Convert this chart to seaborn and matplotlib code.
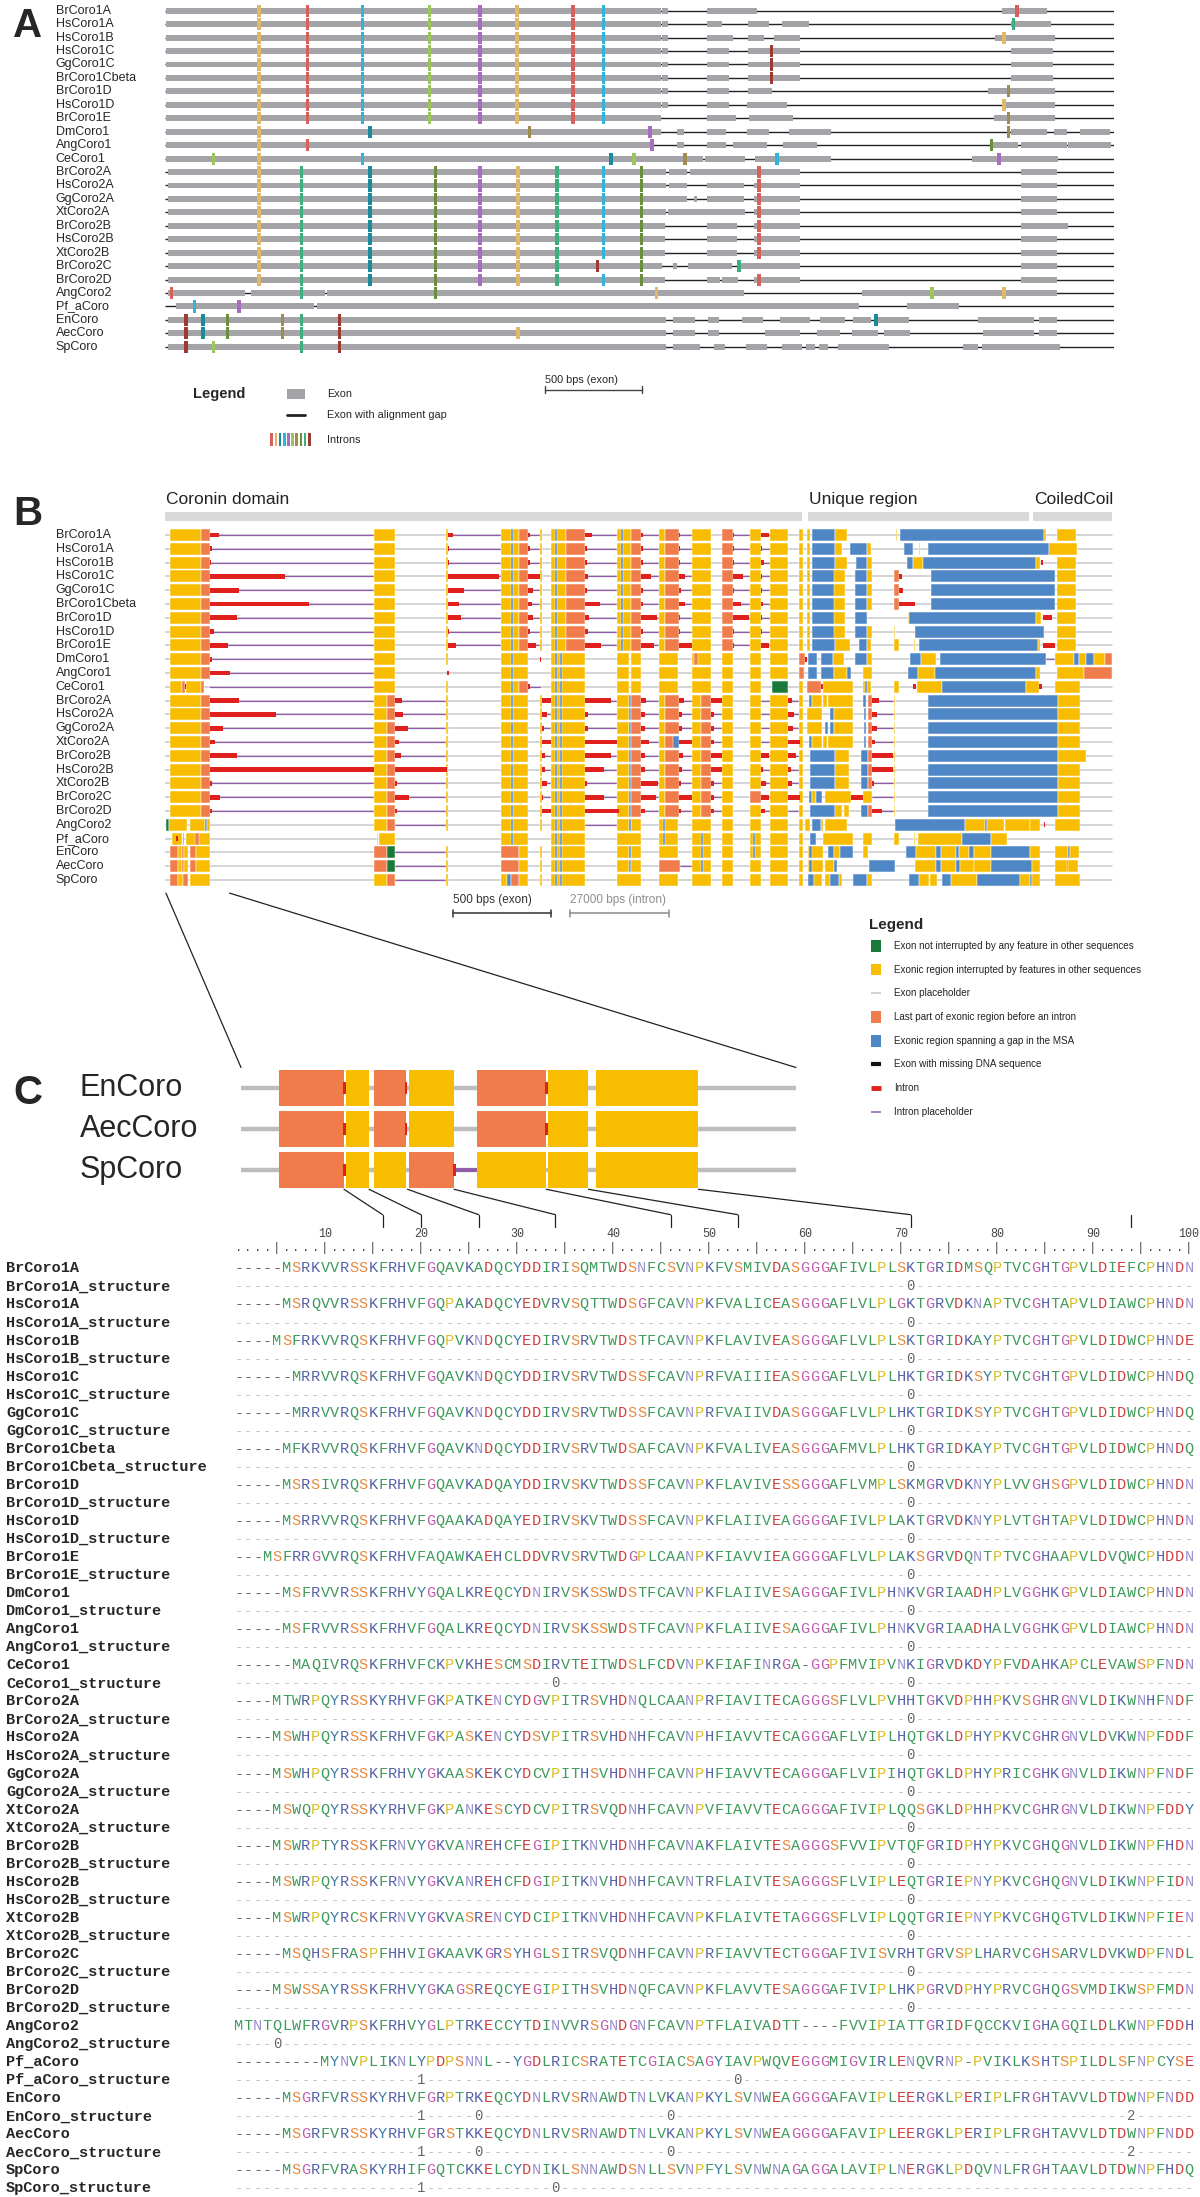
import matplotlib
matplotlib.use("Agg")
import matplotlib.pyplot as plt
from matplotlib.patches import Rectangle, ConnectionPatch
import seaborn as sns

# ---------------------------
# Data: gene names (same order in panels A and B)
# ---------------------------
gene_names = ['BrCoro1A', 'HsCoro1A', 'HsCoro1B', 'HsCoro1C', 'GgCoro1C', 'BrCoro1Cbeta',
              'BrCoro1D', 'HsCoro1D', 'BrCoro1E', 'DmCoro1', 'AngCoro1', 'CeCoro1',
              'BrCoro2A', 'HsCoro2A', 'GgCoro2A', 'XtCoro2A', 'BrCoro2B', 'HsCoro2B',
              'XtCoro2B', 'BrCoro2C', 'BrCoro2D', 'AngCoro2', 'Pf_aCoro', 'EnCoro',
              'AecCoro', 'SpCoro']

# ---------------------------
# Panel A: exon segments and intron positions (alignment columns 0-1000)
# ---------------------------
coro1_head = [(1, 523), (524, 530)]
a_exons = [
    coro1_head + [(571, 624), (882, 929)],
    coro1_head + [(571, 587), (614, 636), (650, 679), (891, 934)],
    coro1_head + [(571, 598), (614, 631), (642, 669), (875, 938)],
    coro1_head + [(571, 594), (614, 669), (891, 936)],
    coro1_head + [(571, 594), (614, 669), (891, 936)],
    coro1_head + [(571, 594), (614, 669), (891, 936)],
    coro1_head + [(571, 594), (614, 640), (867, 938)],
    coro1_head + [(571, 594), (613, 655), (883, 938)],
    [(1, 523), (571, 602), (615, 662), (874, 938)],
    [(1, 523), (540, 547), (571, 591), (613, 636), (658, 702), (891, 929), (937, 951), (964, 996)],
    [(1, 513), (540, 547), (571, 591), (599, 634), (651, 687), (873, 899), (902, 951), (952, 997)],
    [(1, 567), (569, 611), (622, 702), (850, 941)],
    [(3, 528), (531, 550), (553, 669), (902, 940)],
    [(3, 528), (531, 550), (571, 610), (621, 669), (902, 940)],
    [(3, 550), (557, 561), (571, 610), (621, 669), (902, 940)],
    [(3, 528), (530, 611), (621, 669), (902, 940)],
    [(3, 527), (571, 603), (621, 669), (902, 952)],
    [(3, 527), (571, 603), (621, 669), (902, 940)],
    [(3, 527), (571, 603), (621, 669), (902, 940)],
    [(3, 524), (535, 540), (551, 597), (606, 669), (902, 940)],
    [(3, 527), (571, 585), (587, 604), (621, 669), (902, 940)],
    [(3, 84), (91, 169), (171, 610), (734, 940)],
    [(12, 157), (160, 731), (782, 837)],
    [(3, 528), (535, 559), (572, 584), (608, 630), (648, 680), (690, 717), (725, 744), (751, 784), (857, 916), (921, 940)],
    [(3, 528), (535, 559), (572, 584), (632, 669), (687, 711), (724, 751), (758, 785), (862, 916), (921, 940)],
    [(3, 528), (535, 564), (579, 590), (612, 634), (650, 671), (675, 685), (689, 699), (709, 763), (841, 857), (861, 943)],
]

coro1_marks = [(99, 'tan'), (150, 'red'), (208, 'cyan'), (279, 'lgreen'), (332, 'purple'),
               (371, 'tan'), (430, 'red'), (462, 'cyan')]
coro2_marks = [(99, 'tan'), (144, 'green'), (216, 'teal'), (285, 'ogreen'), (332, 'purple'),
               (372, 'tan'), (413, 'green'), (462, 'cyan'), (502, 'ogreen'), (626, 'red')]
a_introns = [
    coro1_marks + [(898, 'red')],
    coro1_marks + [(894, 'green')],
    coro1_marks + [(884, 'tan')],
    coro1_marks + [(639, 'dred')],
    coro1_marks + [(639, 'dred')],
    coro1_marks + [(639, 'dred')],
    coro1_marks + [(889, 'olive')],
    coro1_marks + [(884, 'tan')],
    coro1_marks + [(889, 'olive')],
    [(99, 'tan'), (216, 'teal'), (384, 'olive'), (511, 'purple'), (889, 'olive')],
    [(99, 'tan'), (150, 'red'), (513, 'purple'), (871, 'ogreen')],
    [(51, 'lgreen'), (99, 'tan'), (208, 'cyan'), (470, 'teal'), (494, 'lgreen'), (548, 'olive'),
     (645, 'cyan'), (879, 'purple')],
    coro2_marks, coro2_marks, coro2_marks, coro2_marks, coro2_marks, coro2_marks, coro2_marks,
    [(99, 'tan'), (144, 'green'), (216, 'teal'), (285, 'ogreen'), (332, 'purple'), (372, 'tan'),
     (413, 'green'), (456, 'dred'), (502, 'ogreen'), (605, 'green')],
    coro2_marks,
    [(7, 'red'), (144, 'green'), (285, 'ogreen'), (518, 'tan'), (808, 'lgreen'), (884, 'tan')],
    [(31, 'cyan'), (78, 'purple')],
    [(22, 'dred'), (40, 'teal'), (66, 'ogreen'), (124, 'olive'), (144, 'green'), (184, 'dred'), (749, 'teal')],
    [(22, 'dred'), (40, 'teal'), (66, 'ogreen'), (124, 'olive'), (144, 'green'), (184, 'dred'), (372, 'tan')],
    [(22, 'dred'), (51, 'lgreen'), (144, 'green'), (184, 'dred')],
]

intron_keys = ['red', 'tan', 'teal', 'cyan', 'purple', 'lgreen', 'olive', 'ogreen', 'green', 'dred']
intron_hex = ['#d9605a', '#e0b868', '#1a8a9c', '#31b4dc', '#a86cc0', '#9cc65c', '#a08c50',
              '#6a8f3c', '#3cb07c', '#9b3b32']

# ---------------------------
# Panel B: exonic blocks (start, end, kind) and intron lengths
# ---------------------------
coro1_b_core = [(5, 38, 'Y'), (38, 47, 'O'), (220, 242, 'Y'), (296, 298, 'Y'), (354, 373, 'Y'),
                (365, 367, 'B'), (373, 383, 'O'), (395, 397, 'Y'), (407, 423, 'Y'), (411, 413, 'B'),
                (423, 443, 'O'), (476, 491, 'Y'), (481, 483, 'B'), (491, 502, 'O'), (521, 527, 'Y'),
                (527, 542, 'O'), (555, 575, 'Y'), (587, 598, 'O'), (616, 628, 'Y'), (638, 657, 'Y'),
                (668, 672, 'Y'), (676, 680, 'Y'), (682, 706, 'B'), (940, 960, 'Y')]
coro1_b_intron_at = [47, 298, 383, 443, 502, 542, 598, 628]
coro1_b_purple = [(47, 220), (298, 354), (383, 395), (443, 476), (502, 521), (542, 555), (598, 616), (628, 638)]
coro1_red_len = [
    [10, 6, 2, 7, 0, 0, 0, 8],
    [3, 1, 0, 0, 0, 0, 0, 0],
    [1, 1, 1, 0, 2, 0, 1, 3],
    [79, 54, 12, 3, 10, 6, 11, 0],
    [31, 17, 5, 1, 2, 2, 2, 0],
    [105, 12, 4, 15, 2, 6, 9, 2],
    [29, 14, 5, 4, 16, 0, 17, 0],
    [5, 1, 0, 3, 2, 0, 2, 0],
    [19, 9, 8, 16, 13, 13, 2, 8],
]
coro1_tails = [
    [(706, 719, 'Y'), (770, 771, 'Y'), (774, 926, 'B'), (926, 928, 'Y')],
    [(706, 713, 'Y'), (722, 740, 'B'), (740, 744, 'Y'), (779, 788, 'B'), (795, 796, 'Y'), (804, 931, 'B'), (931, 961, 'Y')],
    [(706, 719, 'Y'), (728, 740, 'B'), (740, 745, 'Y'), (782, 788, 'B'), (788, 799, 'Y'), (799, 918, 'B'), (918, 922, 'Y'), (923, 925, 'R')],
    [(705, 717, 'Y'), (727, 740, 'B'), (740, 745, 'Y'), (768, 773, 'O'), (773, 777, 'R'), (807, 938, 'B')],
    [(705, 717, 'Y'), (727, 740, 'B'), (740, 745, 'Y'), (768, 773, 'O'), (773, 778, 'R'), (807, 938, 'B')],
    [(705, 717, 'Y'), (727, 740, 'B'), (740, 745, 'Y'), (768, 773, 'O'), (773, 790, 'R'), (807, 938, 'B')],
    [(705, 717, 'Y'), (727, 740, 'B'), (783, 784, 'Y'), (784, 918, 'B'), (918, 923, 'Y'), (925, 935, 'R')],
    [(705, 717, 'Y'), (727, 740, 'B'), (740, 745, 'Y'), (768, 769, 'Y'), (790, 926, 'B')],
    [(706, 722, 'Y'), (731, 740, 'B'), (740, 744, 'Y'), (768, 773, 'Y'), (789, 790, 'Y'), (795, 920, 'B'), (920, 922, 'Y'), (925, 938, 'R')],
]

coro2_b_core = [(5, 38, 'Y'), (38, 47, 'O'), (220, 234, 'Y'), (234, 242, 'O'), (296, 298, 'Y'),
                (354, 383, 'Y'), (365, 367, 'B'), (395, 397, 'Y'), (407, 443, 'Y'), (411, 413, 'B'),
                (416, 418, 'B'), (476, 489, 'Y'), (489, 491, 'B'), (491, 502, 'O'), (521, 527, 'Y'),
                (527, 542, 'O'), (555, 565, 'Y'), (565, 575, 'O'), (587, 598, 'Y'), (616, 628, 'Y'),
                (638, 657, 'Y'), (668, 672, 'Y')]
coro2_b_intron_at = [47, 242, 397, 443, 502, 542, 575, 628, 657, 745]
coro2_b_purple = [(47, 220), (242, 296), (397, 407), (443, 476), (502, 521), (542, 555), (575, 587),
                  (628, 638), (657, 668), (745, 768)]
coro2_red_len = [
    [31, 8, 10, 27, 5, 5, 12, 0, 4, 7],
    [70, 9, 6, 3, 4, 3, 3, 0, 6, 5],
    [14, 14, 2, 3, 4, 3, 3, 0, 5, 5],
    [6, 5, 10, 33, 8, 13, 3, 0, 12, 3],
    [29, 7, 3, 27, 4, 4, 12, 8, 8, 22],
    [173, 55, 3, 20, 4, 3, 12, 2, 3, 22],
    [2, 2, 6, 2, 18, 2, 4, 5, 4, 2],
    [11, 15, 1, 20, 15, 13, 4, 8, 12, 0],
    [3, 2, 10, 35, 4, 2, 3, 4, 0, 11],
]
coro2_tails = [
    [(679, 682, 'B'), (682, 692, 'Y'), (693, 698, 'Y'), (699, 725, 'Y'), (736, 739, 'B'), (741, 745, 'O'), (768, 769, 'Y'), (804, 941, 'B'), (941, 964, 'Y')],
    [(677, 692, 'Y'), (701, 705, 'B'), (705, 725, 'Y'), (737, 739, 'B'), (741, 745, 'O'), (768, 769, 'Y'), (804, 941, 'B'), (941, 964, 'Y')],
    [(677, 692, 'Y'), (695, 699, 'B'), (701, 705, 'B'), (705, 725, 'Y'), (737, 739, 'B'), (741, 745, 'O'), (768, 769, 'Y'), (804, 941, 'B'), (941, 964, 'Y')],
    [(535, 542, 'B'), (679, 682, 'B'), (682, 692, 'Y'), (693, 698, 'Y'), (699, 725, 'Y'), (737, 739, 'B'), (741, 745, 'O'), (768, 769, 'Y'), (804, 941, 'B'), (941, 964, 'Y')],
    [(680, 706, 'B'), (706, 721, 'Y'), (733, 741, 'B'), (741, 745, 'O'), (768, 769, 'Y'), (804, 941, 'B'), (941, 970, 'Y')],
    [(680, 706, 'B'), (706, 721, 'Y'), (733, 741, 'B'), (741, 745, 'O'), (768, 769, 'Y'), (804, 941, 'B'), (941, 964, 'Y')],
    [(680, 706, 'B'), (706, 721, 'Y'), (733, 741, 'B'), (741, 745, 'O'), (768, 769, 'Y'), (804, 941, 'B'), (941, 964, 'Y')],
    [(616, 628, 'O'), (679, 682, 'B'), (682, 686, 'Y'), (686, 692, 'B'), (695, 723, 'Y'), (723, 735, 'R'), (736, 745, 'Y'), (768, 769, 'Y'), (804, 941, 'B'), (941, 964, 'Y')],
    [(680, 706, 'B'), (706, 713, 'Y'), (715, 721, 'Y'), (733, 741, 'B'), (741, 745, 'O'), (768, 769, 'Y'), (804, 941, 'B'), (941, 964, 'Y')],
]

mid_simple = [(476, 489, 'Y'), (491, 502, 'Y'), (521, 541, 'Y'), (555, 575, 'Y'), (587, 598, 'Y'),
              (616, 628, 'Y'), (638, 657, 'Y'), (668, 672, 'Y')]
left_simple = [(407, 443, 'Y'), (411, 413, 'B'), (416, 418, 'B')]
other_b_blocks = [
    [(5, 38, 'Y'), (38, 47, 'O'), (47, 49, 'R'), (220, 242, 'Y'), (296, 298, 'Y'), (354, 383, 'Y'), (365, 367, 'B'), (395, 396, 'R')]
    + left_simple + mid_simple
    + [(557, 562, 'O'), (668, 674, 'O'), (674, 676, 'R'), (678, 687, 'B'), (691, 704, 'B'), (704, 716, 'Y'), (727, 740, 'B'),
       (740, 745, 'Y'), (785, 797, 'B'), (797, 812, 'Y'), (817, 928, 'B'), (938, 958, 'Y'), (958, 963, 'B'), (963, 971, 'Y'),
       (971, 979, 'B'), (979, 990, 'Y'), (991, 998, 'O')],
    [(5, 38, 'Y'), (38, 47, 'O'), (47, 69, 'R'), (220, 242, 'Y'), (297, 299, 'R'), (354, 383, 'Y'), (365, 367, 'B')]
    + left_simple + mid_simple
    + [(668, 673, 'O'), (678, 687, 'B'), (691, 705, 'B'), (705, 719, 'Y'), (719, 723, 'B'), (736, 745, 'Y'), (783, 793, 'B'),
       (793, 811, 'Y'), (811, 918, 'B'), (918, 922, 'Y'), (940, 968, 'Y'), (968, 998, 'O')],
    [(5, 18, 'Y'), (18, 21, 'O'), (21, 22, 'R'), (22, 38, 'Y'), (38, 41, 'O'), (220, 242, 'Y'), (296, 298, 'Y'), (354, 373, 'Y'),
     (365, 367, 'B'), (373, 383, 'O'), (383, 384, 'R')]
    + left_simple
    + [(476, 489, 'Y'), (491, 502, 'Y'), (521, 541, 'Y'), (555, 575, 'Y'), (587, 598, 'Y'), (616, 628, 'Y'), (640, 656, 'G'),
       (668, 672, 'Y'), (677, 691, 'O'), (691, 693, 'R'), (693, 725, 'Y'), (736, 744, 'Y'), (738, 740, 'B'), (768, 773, 'Y'),
       (788, 791, 'R'), (792, 819, 'Y'), (819, 907, 'B'), (907, 921, 'Y'), (921, 924, 'R'), (938, 964, 'Y')],
    [(1, 4, 'G'), (4, 23, 'Y'), (26, 42, 'Y'), (42, 44, 'B'), (44, 47, 'Y'), (220, 234, 'Y'), (234, 242, 'O'), (296, 298, 'Y'),
     (354, 383, 'Y'), (365, 367, 'B'), (395, 397, 'Y')]
    + left_simple + mid_simple
    + [(489, 491, 'B'), (525, 527, 'B'), (674, 680, 'Y'), (682, 691, 'B'), (691, 693, 'Y'), (695, 719, 'Y'), (769, 843, 'B'),
       (843, 864, 'Y'), (864, 866, 'B'), (866, 884, 'Y'), (885, 912, 'Y'), (912, 922, 'Y'), (926, 927, 'R'), (938, 964, 'Y')],
    [(7, 18, 'Y'), (12, 13, 'R'), (19, 20, 'B'), (22, 47, 'Y'), (32, 36, 'O'), (223, 224, 'Y'), (225, 242, 'Y'),
     (354, 383, 'Y'), (365, 367, 'B')]
    + left_simple
    + [(476, 502, 'Y'), (521, 541, 'Y'), (525, 527, 'B'), (555, 575, 'Y'), (565, 567, 'B'), (587, 598, 'Y'), (616, 628, 'Y'),
       (620, 622, 'B'), (638, 657, 'Y'), (668, 672, 'Y'), (680, 686, 'B'), (693, 725, 'Y'), (736, 745, 'Y'), (768, 773, 'Y'),
       (789, 790, 'Y'), (793, 840, 'Y'), (840, 870, 'B'), (870, 887, 'Y')],
    [(5, 14, 'O'), (14, 18, 'Y'), (18, 20, 'O'), (20, 24, 'Y'), (26, 33, 'O'), (33, 47, 'Y'), (220, 234, 'O'), (234, 242, 'G'),
     (296, 298, 'Y'), (354, 373, 'O'), (373, 383, 'Y'), (395, 397, 'Y')]
    + left_simple + mid_simple
    + [(489, 491, 'B'), (565, 567, 'B'), (620, 622, 'B'), (678, 693, 'Y'), (679, 682, 'B'), (699, 705, 'B'), (705, 711, 'Y'),
       (711, 725, 'B'), (736, 741, 'Y'), (781, 791, 'B'), (791, 812, 'Y'), (812, 818, 'B'), (818, 833, 'Y'), (833, 837, 'B'),
       (837, 847, 'Y'), (847, 852, 'B'), (852, 870, 'Y'), (870, 912, 'B'), (912, 922, 'Y'), (938, 952, 'Y'), (952, 954, 'B'),
       (954, 963, 'Y')],
    [(5, 14, 'O'), (14, 18, 'Y'), (18, 20, 'O'), (20, 24, 'Y'), (26, 33, 'O'), (33, 47, 'Y'), (220, 234, 'O'), (234, 242, 'G'),
     (296, 298, 'Y'), (354, 373, 'O'), (373, 383, 'Y'), (395, 397, 'Y')]
    + left_simple
    + [(476, 489, 'Y'), (489, 491, 'B'), (491, 502, 'Y'), (521, 543, 'O'), (555, 575, 'Y'), (565, 567, 'B'), (587, 598, 'Y'),
       (616, 628, 'Y'), (638, 657, 'Y'), (668, 672, 'Y'), (678, 693, 'Y'), (679, 682, 'B'), (695, 705, 'Y'), (705, 708, 'B'),
       (742, 769, 'B'), (790, 812, 'Y'), (812, 818, 'B'), (818, 833, 'Y'), (833, 838, 'B'), (838, 852, 'Y'), (852, 870, 'Y'),
       (870, 914, 'B'), (914, 922, 'Y'), (938, 962, 'Y'), (950, 952, 'B')],
    [(5, 14, 'O'), (14, 19, 'Y'), (19, 24, 'O'), (26, 47, 'Y'), (220, 234, 'Y'), (234, 242, 'O'), (296, 298, 'Y'),
     (354, 360, 'Y'), (360, 365, 'B'), (365, 373, 'O'), (373, 383, 'Y'), (395, 397, 'Y')]
    + left_simple
    + [(476, 502, 'Y'), (521, 541, 'Y'), (555, 575, 'Y'), (587, 598, 'Y'), (616, 628, 'Y'), (638, 657, 'Y'), (668, 672, 'Y'),
       (678, 684, 'B'), (684, 692, 'Y'), (695, 701, 'Y'), (701, 710, 'B'), (710, 713, 'Y'), (725, 740, 'B'), (740, 745, 'Y'),
       (784, 794, 'B'), (794, 805, 'Y'), (806, 814, 'Y'), (819, 828, 'B'), (828, 856, 'Y'), (856, 901, 'B'), (901, 912, 'Y'),
       (912, 914, 'B'), (914, 922, 'Y'), (938, 964, 'Y')],
]
other_b_purple = [
    [(49, 220), (928, 938)],
    [(69, 220)],
    [(47, 220), (383, 395)],
    [(242, 296), (443, 476)],
    [],
    [(242, 296)],
    [(242, 296), (543, 555)],
    [(242, 296)],
]

b_domains = ['Coronin domain', 'Unique region', 'CoiledCoil']
b_domain_span = [(0, 671), (678, 910), (915, 998)]

b_legend_labels = ['Exon not interrupted by any feature in other sequences',
                   'Exonic region interrupted by features in other sequences',
                   'Exon placeholder',
                   'Last part of exonic region before an intron',
                   'Exonic region spanning a gap in the MSA',
                   'Exon with missing DNA sequence',
                   'Intron',
                   'Intron placeholder']
b_legend_kinds = ['G', 'Y', 'line_gray', 'O', 'B', 'line_black', 'line_red', 'line_purple']

# ---------------------------
# Panel C: zoomed structure of three genes and the alignment
# ---------------------------
c_names = ['EnCoro', 'AecCoro', 'SpCoro']
c_blocks = [
    [(4.2, 11.5, 'O'), (11.7, 14.3, 'Y'), (14.9, 18.4, 'O'), (18.8, 23.8, 'Y'), (26.4, 34.1, 'O'), (34.3, 38.8, 'Y'), (39.7, 51.1, 'Y')],
    [(4.2, 11.5, 'O'), (11.7, 14.3, 'Y'), (14.9, 18.4, 'O'), (18.8, 23.8, 'Y'), (26.4, 34.1, 'O'), (34.3, 38.8, 'Y'), (39.7, 51.1, 'Y')],
    [(4.2, 11.5, 'O'), (11.7, 14.3, 'Y'), (14.9, 18.4, 'Y'), (18.8, 23.8, 'O'), (26.4, 34.1, 'Y'), (34.3, 38.8, 'Y'), (39.7, 51.1, 'Y')],
]
c_red = [[11.5, 18.4, 34.1], [11.5, 18.4, 34.1], [11.5, 23.8]]
c_purple = [[], [], [(24.0, 26.4)]]
c_edges = [11.5, 14.3, 18.6, 23.8, 34.1, 38.8, 51.1]
aln_ticks = [16, 20, 26, 34, 46, 53, 71, 94]

aln_seqs = [
    "-----MSRKVVRSSKFRHVFGQAVKADQCYDDIRISQMTWDSNFCSVNPKFVSMIVDASGGGAFIVLPLSKTGRIDMSQPTVCGHTGPVLDIEFCPHNDN",
    "-----MSRQVVRSSKFRHVFGQPAKADQCYEDVRVSQTTWDSGFCAVNPKFVALICEASGGGAFLVLPLGKTGRVDKNAPTVCGHTAPVLDIAWCPHNDN",
    "----MSFRKVVRQSKFRHVFGQPVKNDQCYEDIRVSRVTWDSTFCAVNPKFLAVIVEASGGGAFLVLPLSKTGRIDKAYPTVCGHTGPVLDIDWCPHNDE",
    "------MRRVVRQSKFRHVFGQAVKNDQCYDDIRVSRVTWDSSFCAVNPRFVAIIIEASGGGAFLVLPLHKTGRIDKSYPTVCGHTGPVLDIDWCPHNDQ",
    "------MRRVVRQSKFRHVFGQAVKNDQCYDDIRVSRVTWDSSFCAVNPRFVAIIVDASGGGAFLVLPLHKTGRIDKSYPTVCGHTGPVLDIDWCPHNDQ",
    "-----MFKRVVRQSKFRHVFGQAVKNDQCYDDIRVSRVTWDSAFCAVNPKFVALIVEASGGGAFMVLPLHKTGRIDKAYPTVCGHTGPVLDIDWCPHNDQ",
    "-----MSRSIVRQSKFRHVFGQAVKADQAYDDIRVSKVTWDSSFCAVNPKFLAVIVESSGGGAFLVMPLSKMGRVDKNYPLVVGHSGPVLDIDWCPHNDN",
    "-----MSRRVVRQSKFRHVFGQAAKADQAYEDIRVSKVTWDSSFCAVNPKFLAIIVEAGGGGAFIVLPLAKTGRVDKNYPLVTGHTAPVLDIDWCPHNDN",
    "---MSFRRGVVRQSKFRHVFAQAWKAEHCLDDVRVSRVTWDGPLCAANPKFIAVVIEAGGGGAFLVLPLAKSGRVDQNTPTVCGHAAPVLDVQWCPHDDN",
    "-----MSFRVVRSSKFRHVYGQALKREQCYDNIRVSKSSWDSTFCAVNPKFLAIIVESAGGGAFIVLPHNKVGRIAADHPLVGGHKGPVLDIAWCPHNDN",
    "-----MSFRVVRSSKFRHVFGQALKREQCYDNIRVSKSSWDSTFCAVNPKFLAIIVESAGGGAFIVLPHNKVGRIAADHALVGGHKGPVLDIAWCPHNDN",
    "------MAQIVRQSKFRHVFCKPVKHESCMSDIRVTEITWDSLFCDVNPKFIAFINRGA-GGPFMVIPVNKIGRVDKDYPFVDAHKAPCLEVAWSPFNDN",
    "----MTWRPQYRSSKYRHVFGKPATKENCYDGVPITRSVHDNQLCAANPRFIAVITECAGGGSFLVLPVHHTGKVDPHHPKVSGHRGNVLDIKWNHFNDF",
    "----MSWHPQYRSSKFRHVFGKPASKENCYDSVPITRSVHDNHFCAVNPHFIAVVTECAGGGAFLVIPLHQTGKLDPHYPKVCGHRGNVLDVKWNPFDDF",
    "----MSWHPQYRSSKFRHVYGKAASKEKCYDCVPITHSVHDNHFCAVNPHFIAVVTECAGGGAFLVIPIHQTGKLDPHYPRICGHKGNVLDIKWNPFNDF",
    "----MSWQPQYRSSKYRHVFGKPANKESCYDCVPITRSVQDNHFCAVNPVFIAVVTECAGGGAFIVIPLQQSGKLDPHHPKVCGHRGNVLDIKWNPFDDY",
    "----MSWRPTYRSSKFRNVYGKVANREHCFEGIPITKNVHDNHFCAVNAKFLAIVTESAGGGSFVVIPVTQFGRIDPHYPKVCGHQGNVLDIKWNPFHDN",
    "----MSWRPQYRSSKFRNVYGKVANREHCFDGIPITKNVHDNHFCAVNTRFLAIVTESAGGGSFLVIPLEQTGRIEPNYPKVCGHQGNVLDIKWNPFIDN",
    "----MSWRPQYRCSKFRNVYGKVASRENCYDCIPITKNVHDNHFCAVNPKFLAIVTETAGGGSFLVIPLQQTGRIEPNYPKVCGHQGTVLDIKWNPFIEN",
    "-----MSQHSFRASPFHHVIGKAAVKGRSYHGLSITRSVQDNHFCAVNPRFIAVVTECTGGGAFIVISVRHTGRVSPLHARVCGHSARVLDVKWDPFNDL",
    "----MSWSSAYRSSKFRHVYGKAGSREQCYEGIPITHSVHDNQFCAVNPKFLAVVTESAGGGAFIVIPLHKPGRVDPHYPRVCGHQGSVMDIKWSPFMDN",
    "MTNTQLWFRGVRPSKFRHVYGLPTRKECCYTDINVVRSGNDGNFCAVNPTFLAIVADTT----FVVIPIATTGRIDFQCCKVIGHAGQILDLKWNPFDDH",
    "---------MYNVPLIKNLYPDPSNNL--YGDLRICSRATETCGIACSAGYIAVPWQVEGGGMIGVIRLENQVRNP-PVIKLKSHTSPILDLSFNPCYSE",
    "-----MSGRFVRSSKYRHVFGRPTRKEQCYDNLRVSRNAWDTNLVKANPKYLSVNWEAGGGGAFAVIPLEERGKLPERIPLFRGHTAVVLDTDWNPFNDD",
    "-----MSGRFVRSSKYRHVFGRSTKKEQCYDNLRVSRNAWDTNLVKANPKYLSVNWEAGGGGAFAVIPLEERGKLPERIPLFRGHTAVVLDTDWNPFNDD",
    "-----MSGRFVRASKYRHIFGQTCKKELCYDNIKLSNNAWDSNLLSVNPFYLSVNWNAGAGGALAVIPLNERGKLPDQVNLFRGHTAAVLDTDWNPFHDQ",
]
std_marks = [(71, '0')]
aln_struct = [std_marks] * 11 + [[(34, '0'), (71, '0')]] + [std_marks] * 9 + [
    [(5, '0')],
    [(20, '1'), (53, '0')],
    [(20, '1'), (26, '0'), (46, '0'), (94, '2')],
    [(20, '1'), (26, '0'), (46, '0'), (94, '2')],
    [(20, '1'), (34, '0')],
]

aa_colors = {}
for aa in 'AVLIMFWCTQ':
    aa_colors[aa] = '#3f9b5b'
for aa in 'KRH':
    aa_colors[aa] = '#5461a8'
aa_colors.update({'Y': '#3d7fa3', 'D': '#d23c3c', 'E': '#d23c3c', 'S': '#e8893a',
                  'G': '#c05fae', 'P': '#d8c020', 'N': '#9b92d0', '-': '#666666'})

# ---------------------------
# Style
# ---------------------------
sns.set_theme(style="white")
plt.rcParams['font.family'] = ['Liberation Sans', 'DejaVu Sans']
intron_pal = dict(zip(intron_keys, sns.color_palette(intron_hex)))
block_colors = {'Y': '#f8bc00', 'O': '#f07c4c', 'B': '#4f86c6', 'G': '#1a7a3a', 'R': '#e0201c'}
GRAY_LINE = '#c9c9c9'
PURPLE = '#8e5ca8'

W, H = 1200, 2197
fig = plt.figure(figsize=(W / 100, H / 100), dpi=100)


def px_axes(x0, y0, x1, y1):
    ax = fig.add_axes([x0 / W, 1 - y1 / H, (x1 - x0) / W, (y1 - y0) / H])
    ax.set_axis_off()
    return ax


for letter, ypx in [('A', 26), ('B', 514), ('C', 1093)]:
    fig.text(13 / W, 1 - ypx / H, letter, fontsize=29, fontweight='bold', va='center', ha='left')

# ---------------------------
# Panel A
# ---------------------------
ax_a = px_axes(165, 4, 1114, 353.5)
ax_a.set_xlim(0, 1000)
ax_a.set_ylim(25.5, -0.5)
for i, name in enumerate(gene_names):
    ax_a.text(-115, i, name, fontsize=9, va='center', ha='left', clip_on=False)
    ax_a.plot([0, 1000], [i, i], color='#222222', lw=1.0, solid_capstyle='butt')
    for s, e in a_exons[i]:
        ax_a.add_patch(Rectangle((s, i - 0.22), e - s, 0.44, facecolor='#a3a3a8', edgecolor='none', zorder=2))
    for c, key in a_introns[i]:
        ax_a.add_patch(Rectangle((c - 1.8, i - 0.45), 3.6, 0.9, facecolor=intron_pal[key], edgecolor='none', zorder=3))

ax_a.text(30, 28.5, 'Legend', fontsize=10.5, fontweight='bold', va='center', clip_on=False)
ax_a.add_patch(Rectangle((129, 28.15), 19, 0.7, facecolor='#a3a3a8', edgecolor='none', clip_on=False))
ax_a.text(171, 28.5, 'Exon', fontsize=7.8, va='center', clip_on=False)
ax_a.plot([129, 148], [30.1, 30.1], color='#222222', lw=2, clip_on=False)
ax_a.text(171, 30.1, 'Exon with alignment gap', fontsize=7.8, va='center', clip_on=False)
for k, key in enumerate(intron_keys):
    ax_a.add_patch(Rectangle((111 + k * 4.4, 31.45), 2.8, 0.9, facecolor=intron_pal[key], edgecolor='none', clip_on=False))
ax_a.text(171, 31.9, 'Introns', fontsize=7.8, va='center', clip_on=False)
ax_a.plot([400, 503], [28.2, 28.2], color='#444444', lw=1, clip_on=False)
ax_a.plot([400, 400], [27.95, 28.45], color='#444444', lw=1, clip_on=False)
ax_a.plot([503, 503], [27.95, 28.45], color='#444444', lw=1, clip_on=False)
ax_a.text(400, 27.45, '500 bps (exon)', fontsize=7.8, va='center', clip_on=False)

# ---------------------------
# Panel B
# ---------------------------
ax_b = px_axes(165, 528.1, 1114, 886.9)
ax_b.set_xlim(0, 1000)
ax_b.set_ylim(25.5, -0.5)

for label, (s, e) in zip(b_domains, b_domain_span):
    ax_b.add_patch(Rectangle((s, -1.68), e - s, 0.66, facecolor='#d9d9d9', edgecolor='none', clip_on=False))
    ax_b.text(s + 1, -2.55, label, fontsize=12.5, va='center', ha='left', clip_on=False, color='#222222')


def draw_b_row(i, blocks, purple, reds):
    ax_b.plot([0, 998], [i, i], color=GRAY_LINE, lw=1.1, zorder=1)
    for s, e in purple:
        ax_b.plot([s, e], [i, i], color=PURPLE, lw=0.9, zorder=2)
    for s, e, kind in blocks:
        if kind == 'R':
            reds.append((s, e - s))
            continue
        ax_b.add_patch(Rectangle((s, i - 0.44), e - s, 0.88, facecolor=block_colors[kind],
                                 edgecolor='white', lw=0.35, zorder=3))
    for s, length in reds:
        ax_b.add_patch(Rectangle((s, i - 0.17), max(length, 1.2), 0.34, facecolor=block_colors['R'],
                                 edgecolor='none', zorder=4))


for i, name in enumerate(gene_names):
    ax_b.text(-115, i, name, fontsize=9, va='center', ha='left', clip_on=False)
    if i < 9:
        reds = [(p, l) for p, l in zip(coro1_b_intron_at, coro1_red_len[i])]
        draw_b_row(i, coro1_b_core + coro1_tails[i], coro1_b_purple, reds)
    elif i < 12:
        draw_b_row(i, other_b_blocks[i - 9], other_b_purple[i - 9], [])
    elif i < 21:
        reds = [(p, l) for p, l in zip(coro2_b_intron_at, coro2_red_len[i - 12]) if l > 0]
        draw_b_row(i, coro2_b_core + coro2_tails[i - 12], coro2_b_purple, reds)
    else:
        draw_b_row(i, other_b_blocks[i - 18], other_b_purple[i - 18], [])

# scale bars
ax_b.text(304, 26.45, '500 bps (exon)', fontsize=8.5, va='center', color='#333333', clip_on=False)
ax_b.plot([304, 407], [27.4, 27.4], color='#333333', lw=1.1, clip_on=False)
ax_b.plot([304, 304], [27.15, 27.65], color='#333333', lw=1.1, clip_on=False)
ax_b.plot([407, 407], [27.15, 27.65], color='#333333', lw=1.1, clip_on=False)
ax_b.text(427, 26.45, '27000 bps (intron)', fontsize=8.5, va='center', color='#8c8c8c', clip_on=False)
ax_b.plot([427, 531], [27.4, 27.4], color='#8c8c8c', lw=1.1, clip_on=False)
ax_b.plot([427, 427], [27.15, 27.65], color='#8c8c8c', lw=1.1, clip_on=False)
ax_b.plot([531, 531], [27.15, 27.65], color='#8c8c8c', lw=1.1, clip_on=False)

# legend
ax_b.text(742, 28.26, 'Legend', fontsize=11, fontweight='bold', va='center', clip_on=False)
for k, (lab, kind) in enumerate(zip(b_legend_labels, b_legend_kinds)):
    y = 29.78 + 1.717 * k
    if kind in block_colors:
        ax_b.add_patch(Rectangle((744, y - 0.42), 11, 0.84, facecolor=block_colors[kind], edgecolor='none', clip_on=False))
    else:
        col, lw = {'line_gray': (GRAY_LINE, 1.2), 'line_black': ('#111111', 3),
                   'line_red': (block_colors['R'], 3.5), 'line_purple': (PURPLE, 1.1)}[kind]
        ax_b.plot([744, 755], [y, y], color=col, lw=lw, clip_on=False, solid_capstyle='butt')
    ax_b.text(768, y, lab, fontsize=7.1, va='center', clip_on=False, color='#222222')

# ---------------------------
# Panel C: zoom
# ---------------------------
ax_c = px_axes(241, 1067.5, 796, 1190.5)
ax_c.set_xlim(0, 62)
ax_c.set_ylim(2.5, -0.5)
for i, name in enumerate(c_names):
    ax_c.text(-18, i, name, fontsize=22, va='center', ha='left', clip_on=False)
    ax_c.plot([0, 62], [i, i], color='#bdbdbd', lw=3.2, zorder=1, solid_capstyle='butt')
    for s, e in c_purple[i]:
        ax_c.plot([s, e], [i, i], color=PURPLE, lw=2.8, zorder=2, solid_capstyle='butt')
    for s, e, kind in c_blocks[i]:
        ax_c.add_patch(Rectangle((s, i - 0.45), e - s, 0.9, facecolor=block_colors[kind], edgecolor='none', zorder=3))
    for r in c_red[i]:
        ax_c.add_patch(Rectangle((r - 0.12, i - 0.15), 0.3, 0.3, facecolor=block_colors['R'], edgecolor='none', zorder=4))

for xa, xb in [(1, 0), (68, 62)]:
    con = ConnectionPatch(xyA=(xa, 25.95), coordsA=ax_b.transData, xyB=(xb, -0.5), coordsB=ax_c.transData,
                          color='#222222', lw=0.9)
    fig.add_artist(con)

# ---------------------------
# Alignment
# ---------------------------
RES_X0, RES_W = 229, 9.6
ax_al = px_axes(0, 1200, 1200, 2197)
ax_al.set_xlim(-RES_X0 / RES_W, (W - RES_X0) / RES_W)
ax_al.set_ylim((2197 - 1267) / 18.04, (1200 - 1267) / 18.04)
mono = ['Liberation Mono', 'DejaVu Sans Mono']

for edge, res in zip(c_edges, aln_ticks):
    con = ConnectionPatch(xyA=(edge, 2.47), coordsA=ax_c.transData, xyB=(res, -2.9), coordsB=ax_al.transData,
                          color='#222222', lw=0.9)
    fig.add_artist(con)
for res in aln_ticks:
    ax_al.plot([res, res], [-2.9, -2.2], color='#222222', lw=0.9)

for r in range(10, 101, 10):
    ax_al.text(r, -1.83, str(r), fontsize=8.5, ha='center', va='center', family=mono, color='#444444')
for r in range(1, 101):
    ax_al.text(r, -1.05, '|' if r % 5 == 0 else '.', fontsize=9, ha='center', va='center', family=mono,
               color='#444444')

name_tr = ax_al.get_yaxis_transform()
for k, seq in enumerate(aln_seqs):
    y = 2 * k
    ax_al.text(0.005, y + 0.3, gene_names[k], transform=name_tr, fontsize=11, fontweight='bold',
               family=mono, va='baseline', ha='left')
    ax_al.text(0.005, y + 1.3, gene_names[k] + '_structure', transform=name_tr, fontsize=11,
               fontweight='bold', family=mono, va='baseline', ha='left')
    for j, ch in enumerate(seq[:100]):
        ax_al.text(j + 1, y + 0.3, ch, color=aa_colors.get(ch, '#444444'), fontsize=11, family=mono,
                   ha='center', va='baseline')
    marks = dict(aln_struct[k])
    for j in range(1, 101):
        if j in marks:
            ax_al.text(j, y + 1.3, marks[j], color='#666666', fontsize=10, family=mono, ha='center', va='baseline')
        else:
            ax_al.text(j, y + 1.3, '-', color='#c4c4c4', fontsize=10, family=mono, ha='center', va='baseline')

fig.savefig('out.png', dpi=100)
